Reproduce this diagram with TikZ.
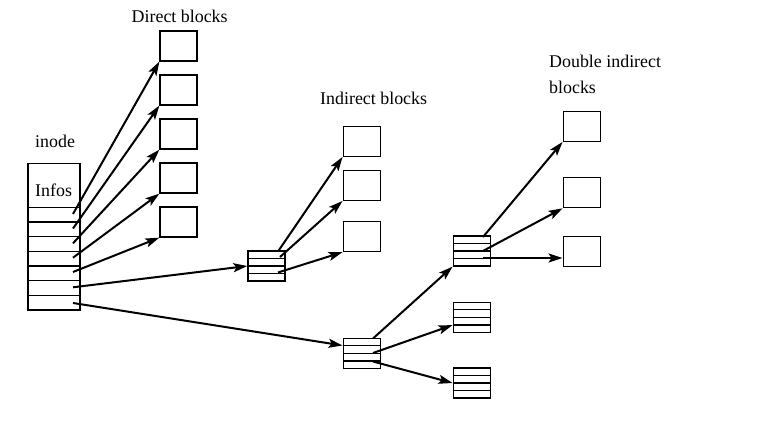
\documentclass[tikz,border=0pt]{standalone}
\usepackage{fontspec}
\setmainfont{Liberation Serif}
\usetikzlibrary{arrows.meta,calc}
\tikzset{
  blk/.style={draw,line width=1.3pt,rectangle,inner sep=0pt,minimum width=37pt,minimum height=30pt},
  ptr/.style={line width=2pt,-{Stealth[length=14pt,width=9pt,inset=3pt]}},
  lbl/.style={anchor=base west,inner sep=0pt,font=\fontsize{17.9}{20}\selectfont},
  rowline/.style={line width=1.3pt}
}
\begin{document}
\begin{tikzpicture}[x=1pt,y=-1pt]
\useasboundingbox (0,0) rectangle (779,446);
% labels
\node[lbl] (tdirect) at (131.5,23) {Direct blocks};
\node[lbl] (tindirect) at (320,105) {Indirect blocks};
\node[lbl] (tdouble) at (549,67.5) {Double indirect};
\node[lbl] (tdouble2) at (549,93.5) {blocks};
\node[lbl] (tinode) at (35,148) {inode};
\node[lbl] (tinfos) at (35,196.5) {Infos};
% inode
\node[draw,line width=1.3pt,rectangle,inner sep=0pt,minimum width=52pt,minimum height=146.7pt] (inode) at (54,236.65) {};
\foreach \k in {0,...,6}
  \draw[rowline] ($(inode.west)+(0,-29.3+\k*14.67)$) -- ($(inode.east)+(0,-29.3+\k*14.67)$);
% direct blocks
\node[blk] (d1) at (178.5,46) {};
\node[blk] (d2) at (178.5,90) {};
\node[blk] (d3) at (178.5,134) {};
\node[blk] (d4) at (178.5,178) {};
\node[blk] (d5) at (178.5,222) {};
% indirect
\node[blk] (ind) at (266.5,266) {};
\node[blk] (id1) at (361.7,141.3) {};
\node[blk] (id2) at (361.7,185.3) {};
\node[blk] (id3) at (361.7,236.5) {};
% double indirect
\node[blk] (dib) at (361.7,353.3) {};
\node[blk] (sb1) at (471.7,251) {};
\node[blk] (sb2) at (471.7,317.3) {};
\node[blk] (sb3) at (471.7,383) {};
\node[blk] (r1) at (581.7,126.3) {};
\node[blk] (r2) at (581.7,192.7) {};
\node[blk] (r3) at (581.7,251.3) {};
\foreach \n in {ind,dib,sb1,sb2,sb3}
  \foreach \k in {1,2,3}
    \draw[rowline] ($(\n.north west)!\k/4!(\n.south west)$) -- ($(\n.north east)!\k/4!(\n.south east)$);
% start points
\coordinate (s1) at (73,214);
\coordinate (s2) at (73,228.5);
\coordinate (s3) at (73,243.3);
\coordinate (s4) at (73,257.7);
\coordinate (s5) at (73,272);
\coordinate (s6) at (73,287.3);
\coordinate (s7) at (73,303);
\coordinate (i1) at (278,251.5);
\coordinate (i2) at (280,257);
\coordinate (i3) at (278,272.5);
\coordinate (j1) at (373,338.5);
\coordinate (j2) at (373,353);
\coordinate (j3) at (373,361.5);
\coordinate (k1) at (483,237);
\coordinate (k2) at (483,251);
\coordinate (k3) at (483,258);
% arrows
\draw[ptr] (s1) -- (d1.south west);
\draw[ptr] (s2) -- (d2.south west);
\draw[ptr] (s3) -- (d3.south west);
\draw[ptr] (s4) -- (d4.south west);
\draw[ptr] (s5) -- (d5.south west);
\draw[ptr] (s6) -- (ind.west);
\draw[ptr] (s7) -- ($(dib.north west)!0.25!(dib.south west)$);
\draw[ptr] (i1) -- (id1.south west);
\draw[ptr] (i2) -- (id2.south west);
\draw[ptr] (i3) -- (id3.south west);
\draw[ptr] (j1) -- (sb1.south west);
\draw[ptr] (j2) -- ($(sb2.north west)!0.75!(sb2.south west)$);
\draw[ptr] (j3) -- ($(sb3.north west)!0.5!(sb3.south west)$);
\draw[ptr] (k1) -- (r1.south west);
\draw[ptr] (k2) -- (r2.south west);
\draw[ptr] (k3) -- (r3.west |- k3);
\end{tikzpicture}
\end{document}
